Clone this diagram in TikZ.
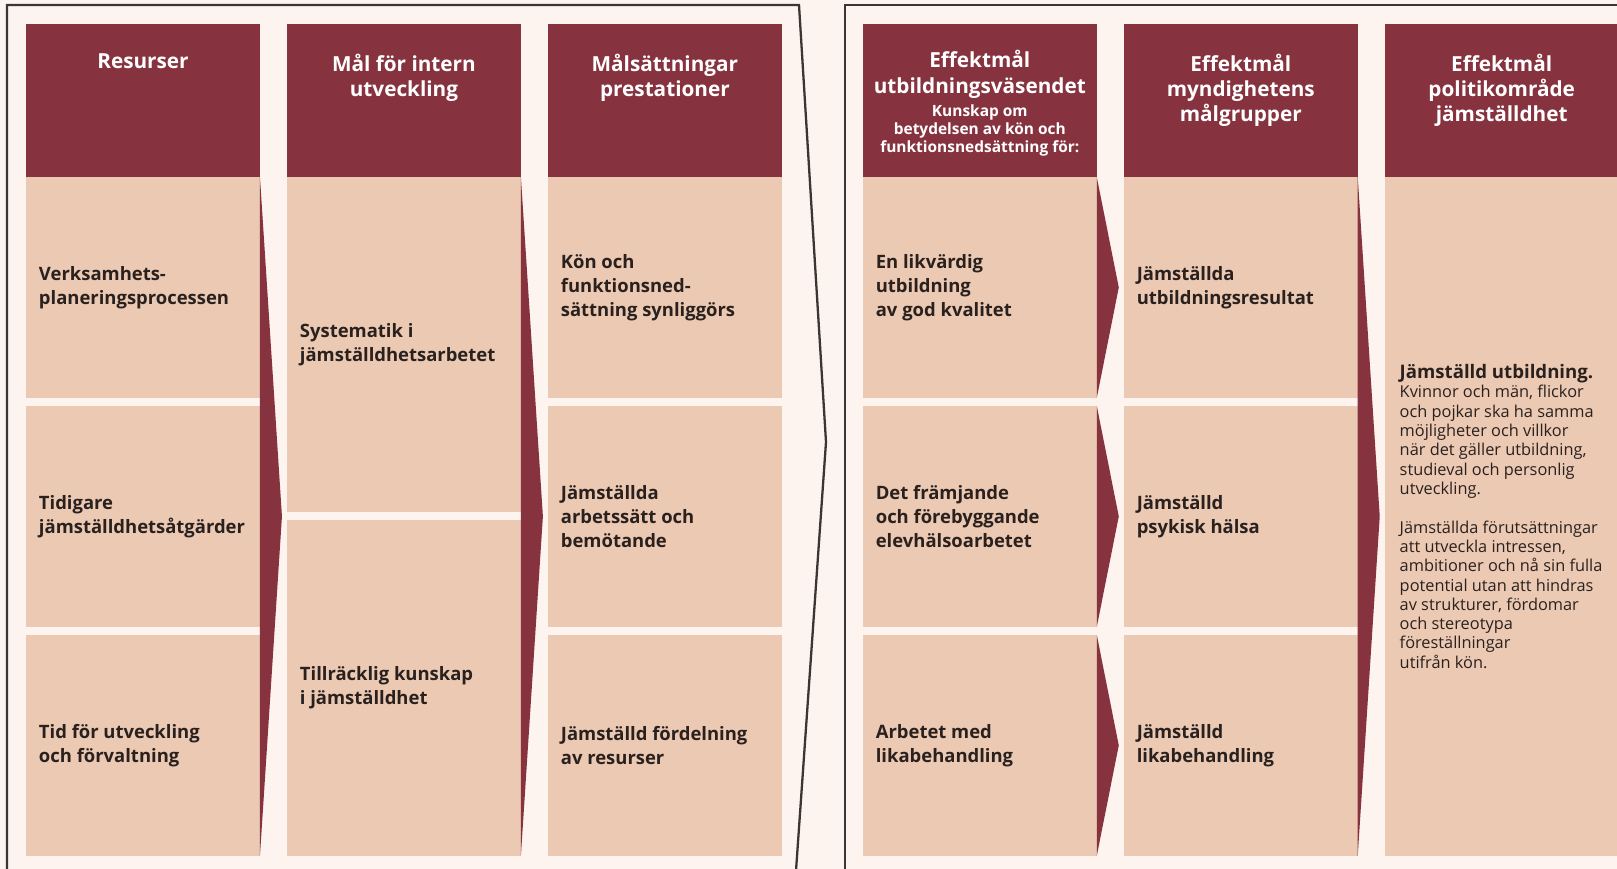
\documentclass[tikz,border=0pt]{standalone}
\usepackage{fontspec}
\setmainfont{Open Sans}
\usetikzlibrary{positioning, calc}

\definecolor{hdred}{HTML}{87333F}
\definecolor{cellbg}{HTML}{EBC9B3}
\definecolor{pagebg}{HTML}{FDF4F0}
\definecolor{framegray}{HTML}{3B3631}
\definecolor{txtdark}{HTML}{2A211F}

\newcommand{\hdtxt}[1]{\parbox[c][3.06cm][t]{4.68cm}{\centering\hyphenpenalty=10000\vspace*{0.6cm}#1\par}}
\newcommand{\celltxt}[3][0pt]{\parbox[c][#2][c]{4.16cm}{\raggedright\hyphenpenalty=10000 #3\par\vspace{#1}}}

\begin{document}
\begin{tikzpicture}[
			x=0.02cm, y=-0.02cm,
			every node/.style={outer sep=0pt},
			head/.style={fill=hdred, text=white, inner sep=0pt, font=\fontsize{11.8}{14.4}\selectfont\bfseries},
			cell/.style={fill=cellbg, text=txtdark, inner xsep=0.26cm, inner ysep=0pt, font=\fontsize{10.5}{13.6}\selectfont\bfseries},
			wedge/.style={fill=hdred},
			frame/.style={draw=framegray, line width=1.3pt, line join=miter}
			]
			
			\useasboundingbox (0,0) rectangle (1617,869);
			\fill[pagebg] (0,0) rectangle (1617,869);
			
			% Headers
			\node (hd1) [head, anchor=north west] at (26,24) {\hdtxt{Resurser}};
			\node (hd2) [head, right=0.54cm of hd1] {\hdtxt{Mål för intern\\utveckling}};
			\node (hd3) [head, right=0.54cm of hd2] {\hdtxt{Målsättningar\\prestationer}};
			\node (hd4) [head, right=1.62cm of hd3] {\hdtxt{\vspace*{-2pt}Effektmål\\utbildningsväsendet\par\vspace{3pt}{\fontsize{8.8}{10.2}\selectfont Kunskap om\\betydelsen av kön och\\funktionsnedsättning för:\par}}};
			\node (hd5) [head, right=0.54cm of hd4] {\hdtxt{Effektmål\\myndighetens\\målgrupper}};
			\node (hd6) [head, right=0.54cm of hd5] {\hdtxt{Effektmål\\politikområde\\jämställdhet}};
			
			% Resurser
			\node (c11) [cell, below=0cm of hd1] {\celltxt{4.42cm}{Verksamhets-\\planeringsprocessen}};
			\node (c12) [cell, below=0.16cm of c11] {\celltxt{4.42cm}{Tidigare\\jämställdhetsåtgärder}};
			\node (c13) [cell, below=0.16cm of c12] {\celltxt{4.42cm}{Tid för utveckling\\och förvaltning}};
			
			% Intern utveckling
			\node (c21) [cell, below=0cm of hd2] {\celltxt{6.71cm}{Systematik i\\jämställdhetsarbetet}};
			\node (c22) [cell, below=0.16cm of c21] {\celltxt{6.71cm}{Tillräcklig kunskap\\i jämställdhet}};
			
			% Prestationer
			\node (c31) [cell, below=0cm of hd3] {\celltxt{4.42cm}{Kön och\\funktionsned-\\sättning synliggörs}};
			\node (c32) [cell, below=0.16cm of c31] {\celltxt{4.42cm}{Jämställda\\arbetssätt och\\bemötande}};
			\node (c33) [cell, below=0.16cm of c32] {\celltxt{4.42cm}{Jämställd fördelning\\av resurser}};
			
			% Utbildningsväsendet
			\node (c41) [cell, below=0cm of hd4] {\celltxt{4.42cm}{En likvärdig\\utbildning\\av god kvalitet}};
			\node (c42) [cell, below=0.16cm of c41] {\celltxt{4.42cm}{Det främjande\\och förebyggande\\elevhälsoarbetet}};
			\node (c43) [cell, below=0.16cm of c42] {\celltxt{4.42cm}{Arbetet med\\likabehandling}};
			
			% Målgrupper
			\node (c51) [cell, below=0cm of hd5] {\celltxt{4.42cm}{Jämställda\\utbildningsresultat}};
			\node (c52) [cell, below=0.16cm of c51] {\celltxt{4.42cm}{Jämställd\\psykisk hälsa}};
			\node (c53) [cell, below=0.16cm of c52] {\celltxt{4.42cm}{Jämställd\\likabehandling}};
			
			% Politikområde
			\node (c61) [cell, inner xsep=0.3cm, anchor=north west] at (hd6.south west) {\parbox[c][13.58cm][c]{4.4cm}{\raggedright\hyphenpenalty=10000
				{\fontsize{10.6}{12.5}\selectfont Jämställd utbildning.\par}
				{\mdseries\fontsize{9.3}{11}\selectfont Kvinnor och män, flickor\\och pojkar ska ha samma\\möjligheter och villkor\\när det gäller utbildning,\\studieval och personlig\\utveckling.\\[11pt]
				Jämställda förutsättningar\\att utveckla intressen,\\ambitioner och nå sin fulla\\potential utan att hindras\\av strukturer, fördomar\\och stereotypa\\föreställningar\\utifrån kön.\par}}};
			
			% Wedges
			\fill[wedge] (c11.north east) -- ($(c11.north east)!0.5!(c13.south east)+(22,0)$) -- (c13.south east) -- cycle;
			\fill[wedge] (c21.north east) -- ($(c21.north east)!0.5!(c22.south east)+(22,0)$) -- (c22.south east) -- cycle;
			\foreach \r in {1,2,3}
				\fill[wedge] (c4\r.north east) -- ($(c4\r.north east)!0.5!(c4\r.south east)+(22,0)$) -- (c4\r.south east) -- cycle;
			\fill[wedge] (c51.north east) -- ($(c51.north east)!0.5!(c53.south east)+(22,0)$) -- (c53.south east) -- cycle;
			
			% Frames
			\draw[frame] (7,885) -- (7,5) -- (799,5) -- (826,442) -- (795,885);
			\draw[frame] (845,885) -- (845,5) -- (1640,5);
			
		\end{tikzpicture}
\end{document}
